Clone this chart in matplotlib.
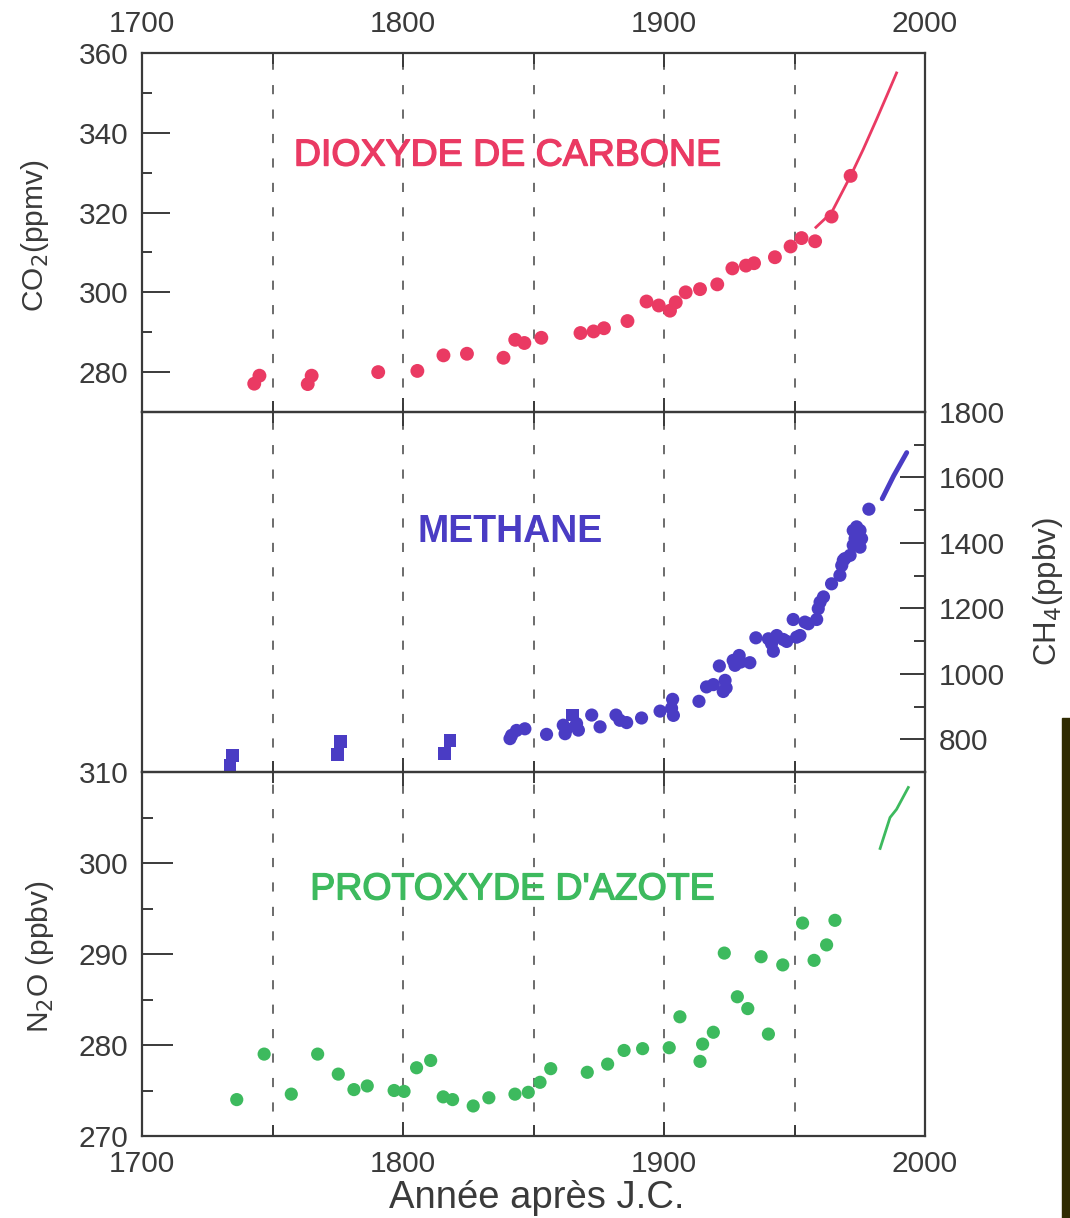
import matplotlib
matplotlib.use("Agg")
import matplotlib.pyplot as plt
import matplotlib.patheffects as pe
from matplotlib.patches import Rectangle
from matplotlib.ticker import MultipleLocator, FixedLocator

plt.rcParams['font.family'] = ['Liberation Sans', 'DejaVu Sans']

# ---- Carbon dioxide (ice cores + direct record) ----
co2_years = [1743, 1745, 1763.5, 1765, 1790.5, 1805.5, 1815.5, 1824.5, 1838.5,
             1843, 1846.5, 1853, 1868, 1873, 1877, 1886, 1893.3, 1898, 1902.3,
             1904.5, 1908.3, 1913.8, 1920.4, 1926.2, 1931.4, 1934.5, 1942.5,
             1948.5, 1952.7, 1957.9, 1964.2, 1971.5]
co2_ppmv = [277.1, 279.1, 277.0, 279.1, 280.0, 280.3, 284.2, 284.6, 283.6,
            288.1, 287.3, 288.6, 289.8, 290.2, 291.0, 292.8, 297.7, 296.7, 295.4,
            297.5, 300.0, 300.8, 302.0, 306.0, 306.7, 307.3, 308.8,
            311.5, 313.6, 312.8, 319.0, 329.2]
co2_line_years = [1958.2, 1964.2, 1971.5, 1976.3, 1981.4, 1985.3, 1989.1]
co2_line_ppmv = [316.3, 320.0, 329.2, 335.8, 343.3, 349.2, 355.0]

# ---- Methane ----
ch4_sq_years = [1733.7, 1734.8, 1774.8, 1775.9, 1815.8, 1818, 1865]
ch4_sq_ppbv = [720, 751, 753, 794, 756, 797, 874]
ch4_years = [1841.0, 1841.6, 1843.5, 1846.7, 1855, 1861.4, 1862.1, 1862.7,
             1866.5, 1867.2, 1872.3, 1875.5, 1881.6, 1883.1, 1885.7, 1891.4,
             1898.5, 1902.9, 1903.3, 1903.6, 1913.4, 1916.3, 1918.9, 1921.2,
             1922.7, 1923.4, 1923.8, 1926.5, 1927.2, 1928.8, 1929.4, 1932.9,
             1935.2, 1940.0, 1941.2, 1941.9, 1943.2, 1945.7, 1947.0, 1949.5,
             1950.8, 1952.1, 1954.0, 1955.3, 1958.5, 1959.1, 1959.8, 1961.1,
             1964.2, 1967.4, 1968.1, 1968.7, 1969.3, 1971.3, 1972.5, 1973.2,
             1972.5, 1973.8, 1975.1, 1975.7, 1975.1, 1978.5]
ch4_ppbv = [802, 812, 827, 832, 815, 843, 817, 832,
            848, 828, 874, 838, 874, 858, 851, 865,
            886, 895, 922, 873, 916, 960, 967, 1024,
            946, 980, 957, 1041, 1026, 1056, 1036, 1034,
            1110, 1107, 1092, 1069, 1117, 1105, 1099, 1166,
            1112, 1117, 1158, 1153, 1166, 1199, 1219, 1235,
            1275, 1301, 1331, 1347, 1352, 1362, 1393, 1413,
            1438, 1449, 1438, 1413, 1387, 1503]
ch4_line_years = [1983.6, 1988.0, 1993.0]
ch4_line_ppbv = [1535, 1605, 1676]

# ---- Nitrous oxide ----
n2o_years = [1736.3, 1746.8, 1757.2, 1767.3, 1775.2, 1781.2, 1786.3, 1796.6,
             1800.4, 1805.2, 1810.6, 1815.4, 1819.0, 1826.9, 1832.9, 1842.9,
             1848.0, 1852.5, 1856.6, 1870.6, 1878.4, 1884.7, 1891.8, 1902.0,
             1906.1, 1913.8, 1914.8, 1918.9, 1923.1, 1928.1, 1932.1, 1937.2,
             1940.0, 1945.5, 1953.1, 1957.5, 1962.3, 1965.5]
n2o_ppbv = [274.0, 279.0, 274.6, 279.0, 276.8, 275.1, 275.5, 275.0,
            274.9, 277.5, 278.3, 274.3, 274.0, 273.3, 274.2, 274.6,
            274.8, 275.9, 277.4, 277.0, 277.9, 279.4, 279.6, 279.7,
            283.1, 278.2, 280.1, 281.4, 290.1, 285.3, 284.0, 289.7,
            281.2, 288.8, 293.4, 289.3, 291.0, 293.7]
n2o_line_years = [1982.8, 1986.6, 1989.1, 1993.6]
n2o_line_ppbv = [301.6, 305.0, 305.9, 308.3]

year_ticks = [1700, 1800, 1900, 2000]
year_minor = [1750, 1850, 1950]
grid_years = [1750, 1800, 1850, 1900, 1950]

RED = '#ea3a63'
BLUE = '#4a3cc4'
GREEN = '#3dba5e'
INK = '#3a3a3a'
TICKFS = 21.5
GASFS = 27

W, H = 1070, 1218
fig = plt.figure(figsize=(W / 100, H / 100), dpi=100)
fig.patch.set_facecolor('white')

left, right = 142 / W, 925 / W
def box(top_px, bot_px):
    return [left, 1 - bot_px / H, right - left, (bot_px - top_px) / H]

ax1 = fig.add_axes(box(53, 412))
ax2 = fig.add_axes(box(412, 772))
ax3 = fig.add_axes(box(772, 1136))

for ax in (ax1, ax2, ax3):
    ax.set_xlim(1700, 2000)
    ax.set_facecolor('none')
    for s in ax.spines.values():
        s.set_color(INK)
        s.set_linewidth(1.6)
    ax.xaxis.set_major_locator(FixedLocator(year_ticks))
    ax.xaxis.set_minor_locator(FixedLocator(year_minor))
    ax.tick_params(axis='x', which='both', direction='in', top=True, bottom=True,
                   color=INK, width=1.4, labelbottom=False, labeltop=False)
    ax.tick_params(axis='x', which='major', length=10)
    ax.tick_params(axis='x', which='minor', length=8)
    for gx in grid_years:
        ax.axvline(gx, color='#444444', lw=1.1, dashes=(6, 10), zorder=1)

# Carbon dioxide panel
ax1.set_ylim(270, 360)
ax1.scatter(co2_years, co2_ppmv, s=100, color=RED, edgecolors='none', zorder=3)
ax1.plot(co2_line_years, co2_line_ppmv, color=RED, lw=2.0, zorder=3)
ax1.yaxis.set_major_locator(FixedLocator([280, 300, 320, 340, 360]))
ax1.yaxis.set_minor_locator(MultipleLocator(10))
ax1.tick_params(axis='y', which='both', direction='in', left=True, right=False,
                color=INK, width=1.4, labelsize=TICKFS, labelcolor=INK, pad=10)
ax1.tick_params(axis='y', which='major', length=20)
ax1.tick_params(axis='y', which='minor', length=7)
ax1.tick_params(axis='x', which='major', labeltop=True, labelsize=TICKFS,
                labelcolor=INK, pad=11)
ax1.text(1840, 334.3, 'DIOXYDE DE CARBONE', color=RED, fontsize=GASFS,
         ha='center', va='center',
         path_effects=[pe.withStroke(linewidth=1.0, foreground=RED)])

# Methane panel (scale on the right)
ax2.set_ylim(700, 1800)
ax2.scatter(ch4_sq_years, ch4_sq_ppbv, s=85, marker='s', color=BLUE,
            edgecolors='none', zorder=3)
ax2.scatter(ch4_years, ch4_ppbv, s=90, color=BLUE, edgecolors='none', zorder=3)
ax2.plot(ch4_line_years, ch4_line_ppbv, color=BLUE, lw=3.5,
         solid_capstyle='round', zorder=3)
ax2.yaxis.tick_right()
ax2.yaxis.set_major_locator(FixedLocator([800, 1000, 1200, 1400, 1600, 1800]))
ax2.yaxis.set_minor_locator(MultipleLocator(100))
ax2.tick_params(axis='y', which='both', direction='in', left=False, right=True,
                color=INK, width=1.4, labelsize=TICKFS, labelcolor=INK, pad=10)
ax2.tick_params(axis='y', which='major', length=18)
ax2.tick_params(axis='y', which='minor', length=8)
ax2.text(1841, 1433, 'METHANE', color=BLUE, fontsize=GASFS, fontweight='bold',
         ha='center', va='center')

# Nitrous oxide panel
ax3.set_ylim(270, 310)
ax3.scatter(n2o_years, n2o_ppbv, s=90, color=GREEN, edgecolors='none', zorder=3)
ax3.plot(n2o_line_years, n2o_line_ppbv, color=GREEN, lw=2.0, zorder=3)
ax3.yaxis.set_major_locator(MultipleLocator(10))
ax3.yaxis.set_minor_locator(MultipleLocator(5))
ax3.tick_params(axis='y', which='both', direction='in', left=True, right=False,
                color=INK, width=1.4, labelsize=TICKFS, labelcolor=INK, pad=10)
ax3.tick_params(axis='y', which='major', length=22)
ax3.tick_params(axis='y', which='minor', length=8)
ax3.tick_params(axis='x', which='major', labelbottom=True, labelsize=TICKFS,
                labelcolor=INK, pad=10)
ax3.text(1842, 297.1, "PROTOXYDE D'AZOTE", color=GREEN, fontsize=GASFS,
         ha='center', va='center',
         path_effects=[pe.withStroke(linewidth=1.0, foreground=GREEN)])

# Axis titles
fig.text(35 / W, 1 - 236 / H, 'CO$_2$(ppmv)', rotation=90, fontsize=21.5,
         color=INK, ha='center', va='center')
fig.text(40 / W, 1 - 957 / H, 'N$_2$O (ppbv)', rotation=90, fontsize=21.5,
         color=INK, ha='center', va='center')
fig.text(1048 / W, 1 - 592 / H, 'CH$_4$(ppbv)', rotation=90, fontsize=22.5,
         color=INK, ha='center', va='center')
fig.text(537 / W, 1 - 1198 / H, 'Année après J.C.', fontsize=27.5,
         color=INK, ha='center', va='center')

# dark strip along the lower right edge
fig.patches.append(Rectangle((1062 / W, 0), 8 / W, (H - 718) / H,
                             transform=fig.transFigure, color='#302c02',
                             zorder=0))

fig.savefig('out.png', dpi=100, facecolor='white')
